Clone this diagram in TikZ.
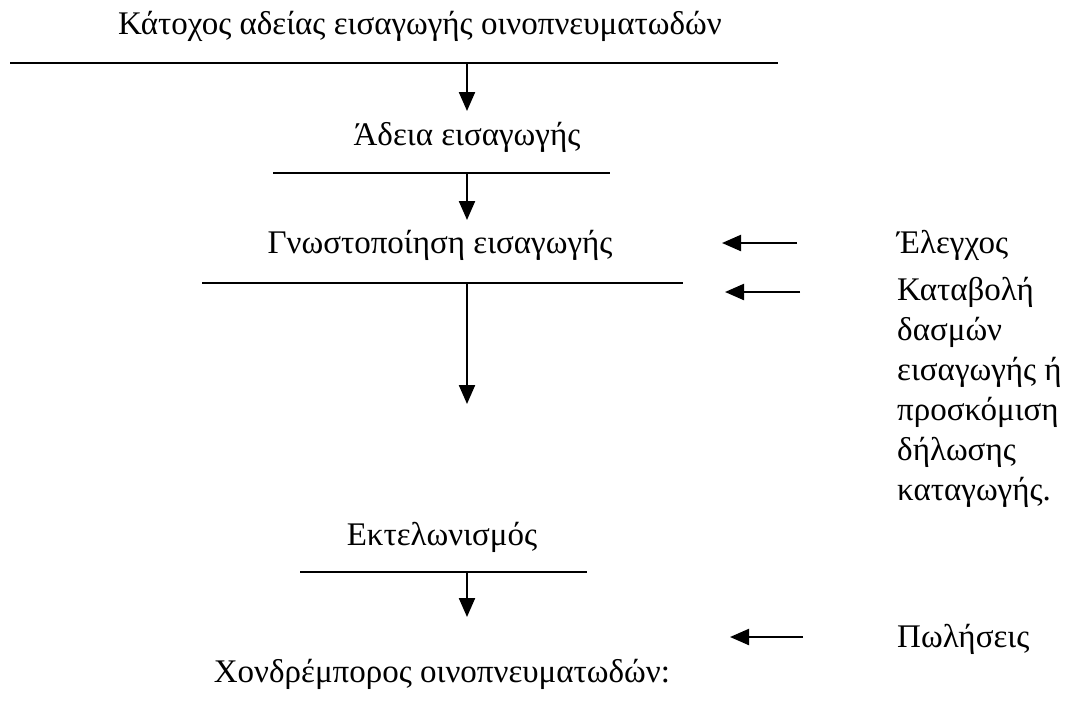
\documentclass[tikz,border=0pt]{standalone}
\usepackage{fontspec}
\setmainfont{Liberation Serif}
\usetikzlibrary{arrows.meta}
\begin{document}
\begin{tikzpicture}[x=1pt,y=-1pt,
  lbl/.style={inner sep=0pt,font=\fontsize{33}{40}\selectfont},
  bar/.style={line width=2.2pt},
  arr/.style={line width=2.2pt,-{Triangle[length=19pt,width=16pt]}}]
\useasboundingbox (0,0) rectangle (1065,713);
% vertical chain
\node[lbl,anchor=base] (t1) at (420,34) {Κάτοχος αδείας εισαγωγής οινοπνευματωδών};
\coordinate (l1a) at (10,63); \coordinate (l1b) at (778,63); \coordinate (l1m) at (467,63);
\draw[bar] (l1a) -- (l1b);
\node[lbl,anchor=base] (t2) at (467,145) {Άδεια εισαγωγής};
\coordinate (a1) at (467,111);
\draw[arr] (l1m) -- (a1);
\coordinate (l2a) at (273,173); \coordinate (l2b) at (610,173); \coordinate (l2m) at (467,173);
\draw[bar] (l2a) -- (l2b);
\node[lbl,anchor=base] (t3) at (440,253) {Γνωστοποίηση εισαγωγής};
\coordinate (a2) at (467,220);
\draw[arr] (l2m) -- (a2);
\coordinate (l3a) at (202,283); \coordinate (l3b) at (683,283); \coordinate (l3m) at (467,283);
\draw[bar] (l3a) -- (l3b);
\coordinate (a3) at (467,404);
\draw[arr] (l3m) -- (a3);
\node[lbl,anchor=base] (t4) at (442,545) {Εκτελωνισμός};
\coordinate (l4a) at (300,572); \coordinate (l4b) at (587,572); \coordinate (l4m) at (467,572);
\draw[bar] (l4a) -- (l4b);
\coordinate (a4) at (467,617);
\draw[arr] (l4m) -- (a4);
\node[lbl,anchor=base] (t5) at (442,682) {Χονδρέμπορος οινοπνευματωδών:};
% right side
\node[lbl,anchor=base west] (r1) at (897,253) {Έλεγχος};
\node[lbl,anchor=north west,align=left] (r2) at (897,277) {Καταβολή\\δασμών\\εισαγωγής ή\\προσκόμιση\\δήλωσης\\καταγωγής.};
\node[lbl,anchor=base west] (r3) at (897,647) {Πωλήσεις};
\coordinate (h1a) at (797,243); \coordinate (h1b) at (722,243);
\coordinate (h2a) at (800,292); \coordinate (h2b) at (725,292);
\coordinate (h3a) at (803,637); \coordinate (h3b) at (730,637);
\draw[arr] (h1a) -- (h1b);
\draw[arr] (h2a) -- (h2b);
\draw[arr] (h3a) -- (h3b);
\end{tikzpicture}
\end{document}
